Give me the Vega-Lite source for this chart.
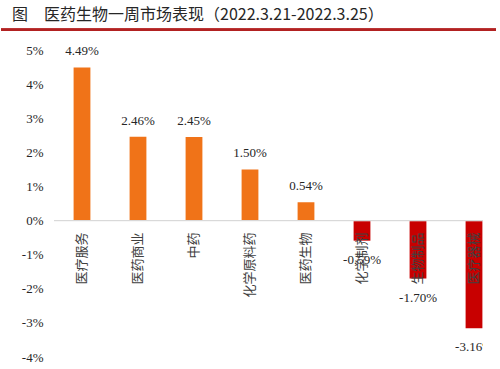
{
  "$schema": "https://vega.github.io/schema/vega-lite/v6.json",
  "padding": {"left": 0, "right": 0, "top": 6, "bottom": 0},
  "background": "white",
  "width": 429,
  "height": 307,
  "title": {"text": "图　医药生物一周市场表现（2022.3.21-2022.3.25）", "anchor": "start", "frame": "bounds", "dx": 12, "font": "Noto Sans CJK SC", "fontSize": 16, "fontWeight": "normal", "color": "#262626", "offset": 6},
  "config": {
    "view": {"stroke": null},
    "axis": {"labelOverlap": false},
    "locale": {"number": {"decimal": ".", "thousands": ",", "grouping": [3], "currency": ["$", ""], "minus": "-"}}
  },
  "data": {"values": [
    {"name": "医疗服务", "v": 0.0449},
    {"name": "医药商业", "v": 0.0246},
    {"name": "中药", "v": 0.0245},
    {"name": "化学原料药", "v": 0.0150},
    {"name": "医药生物", "v": 0.0054},
    {"name": "化学制剂", "v": -0.0059},
    {"name": "生物制品", "v": -0.0170},
    {"name": "医疗器械", "v": -0.0316}
  ]},
  "resolve": {"scale": {"x": "independent"}},
  "layer": [
    {
      "mark": {"type": "bar", "width": {"band": 0.3}},
      "encoding": {
        "x": {"field": "name", "type": "nominal", "sort": null, "scale": {"domain": ["医疗服务", "医药商业", "中药", "化学原料药", "医药生物", "化学制剂", "生物制品", "医疗器械"], "range": [0, 448], "paddingInner": 0, "paddingOuter": 0}, "axis": null},
        "y": {"field": "v", "type": "quantitative", "scale": {"domain": [-0.04, 0.05]},
          "axis": {"values": [-0.04, -0.03, -0.02, -0.01, 0, 0.01, 0.02, 0.03, 0.04, 0.05], "tickCount": 10, "format": ".0%", "domain": false, "ticks": false, "grid": false, "labelOverlap": false, "labelFont": "Liberation Serif", "labelFontSize": 13, "labelColor": "#262626", "labelPadding": 11, "title": null}},
        "color": {"condition": {"test": "datum.v < 0", "value": "#C80000"}, "value": "#F07318"}
      }
    },
    {
      "mark": {"type": "rule", "color": "#D9D9D9", "strokeWidth": 1},
      "encoding": {"y": {"datum": 0, "type": "quantitative"}}
    },
    {
      "mark": {"type": "rule", "color": "#B22222", "strokeWidth": 2},
      "encoding": {
        "x": {"datum": -0.1235, "type": "quantitative", "scale": {"domain": [0, 1]}, "axis": null},
        "x2": {"datum": 1.0303},
        "y": {"datum": 0.0559, "type": "quantitative"}
      }
    },
    {
      "transform": [{"filter": "datum.v >= 0"}],
      "mark": {"type": "text", "baseline": "alphabetic", "dy": -12, "font": "Liberation Serif", "fontSize": 13, "color": "#262626"},
      "encoding": {
        "x": {"field": "name", "type": "nominal", "sort": null, "scale": {"domain": ["医疗服务", "医药商业", "中药", "化学原料药", "医药生物", "化学制剂", "生物制品", "医疗器械"], "range": [0, 448], "paddingInner": 0, "paddingOuter": 0}, "axis": null},
        "y": {"field": "v", "type": "quantitative"},
        "text": {"field": "v", "type": "quantitative", "format": ".2%"}
      }
    },
    {
      "transform": [{"filter": "datum.v < 0"}],
      "mark": {"type": "text", "baseline": "alphabetic", "dy": 23, "font": "Liberation Serif", "fontSize": 13, "color": "#262626", "clip": true},
      "encoding": {
        "x": {"field": "name", "type": "nominal", "sort": null, "scale": {"domain": ["医疗服务", "医药商业", "中药", "化学原料药", "医药生物", "化学制剂", "生物制品", "医疗器械"], "range": [0, 448], "paddingInner": 0, "paddingOuter": 0}, "axis": null},
        "y": {"field": "v", "type": "quantitative"},
        "text": {"field": "v", "type": "quantitative", "format": ".2%"}
      }
    },
    {
      "mark": {"type": "text", "angle": 270, "align": "right", "baseline": "middle", "dx": -12, "font": "Noto Sans CJK SC", "fontSize": 13, "color": "#404040"},
      "encoding": {
        "x": {"field": "name", "type": "nominal", "sort": null, "scale": {"domain": ["医疗服务", "医药商业", "中药", "化学原料药", "医药生物", "化学制剂", "生物制品", "医疗器械"], "range": [0, 448], "paddingInner": 0, "paddingOuter": 0}, "axis": null},
        "y": {"datum": 0, "type": "quantitative"},
        "text": {"field": "name", "type": "nominal"}
      }
    }
  ]
}
